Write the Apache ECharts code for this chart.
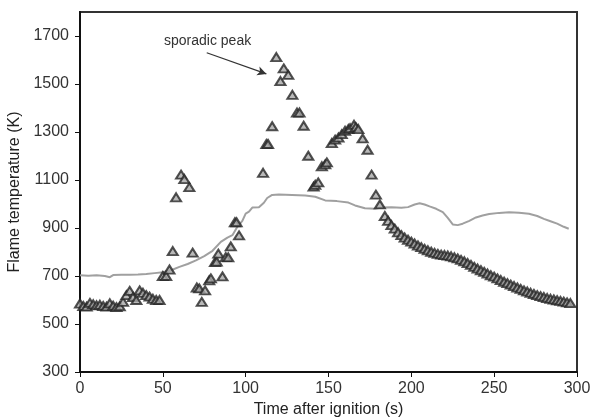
<!DOCTYPE html>
<html>
<head>
<meta charset="utf-8">
<script src="https://cdn.jsdelivr.net/npm/echarts@6/dist/echarts.min.js"></script>
<style>
  html, body { margin: 0; padding: 0; background: #fff; }
  #chart { width: 591px; height: 417px; }
</style>
</head>
<body>
<div id="chart"></div>
<script>
// measured flame temperature (triangles), [time s, K]
var flamePoints = [
  [0, 585], [2, 575], [4, 572], [6, 588], [8, 582], [10, 578], [12, 580], [14, 575],
  [16, 572], [18, 586], [20, 576], [22, 570], [24, 574], [26, 592], [28, 620], [30, 638],
  [32, 612], [34, 600], [36, 640], [38, 630], [40, 620], [42, 614], [44, 605], [46, 600],
  [48, 600], [50, 700], [52, 700], [54, 727], [56, 804], [58, 1028], [61, 1122], [63, 1104],
  [66, 1070], [68, 797], [70.5, 652], [72, 648], [73.5, 592], [75.5, 640], [78, 682], [79, 690],
  [81.5, 758], [82.5, 760], [83.5, 793], [86, 698], [88, 779], [89.5, 778], [91, 823],
  [93.5, 924], [94.5, 924], [96, 869],
  [110.5, 1130], [112.5, 1250], [113.5, 1250], [116, 1324], [118.5, 1612], [121, 1512],
  [123, 1565], [125.7, 1538], [128.2, 1455], [131, 1381], [132.5, 1381], [135, 1326],
  [137.8, 1201], [141, 1072], [142, 1080], [143.8, 1090], [146, 1157], [148, 1165], [149, 1173],
  [152, 1254], [154, 1268], [156, 1277], [158, 1291], [160, 1305], [162, 1312], [163, 1316],
  [165.4, 1330], [166.5, 1320], [168, 1312], [170.6, 1273], [173.6, 1226], [176, 1122],
  [178.6, 1039], [181, 998],
  [184, 950], [186, 930], [188, 912], [190, 897], [192, 882], [194, 870], [196, 860], [198, 851],
  [200, 843], [202, 835], [204, 827], [206, 820], [208, 813], [210, 807], [212, 801], [214, 796],
  [216, 792], [218, 789], [220, 787], [222, 785], [224, 782], [226, 778], [228, 773], [230, 767],
  [232, 761], [234, 754], [236, 746], [238, 738], [240, 731], [242, 724], [244, 717], [246, 710],
  [248, 703], [250, 697], [252, 690], [254, 683], [256, 676], [258, 670], [260, 664], [262, 658],
  [264, 652], [266, 646], [268, 640], [270, 635], [272, 630], [274, 625], [276, 620], [278, 616],
  [280, 612], [282, 608], [284, 605], [286, 602], [288, 599], [290, 596], [292, 593], [294, 590],
  [296, 587]
]

// grey reference curve, [time s, K]
var refCurve = [
  [0, 703], [5, 701], [10, 703], [15, 700], [18, 695], [20, 704], [25, 705], [30, 705],
  [35, 706], [40, 708], [45, 712], [50, 716], [55, 724], [60, 738], [65, 750], [70, 765],
  [75, 783], [80, 805], [85, 842], [89, 860], [92, 870], [95, 905], [98, 930], [100, 960],
  [102, 968], [104, 985], [108, 986], [111, 1005], [113, 1025], [116, 1038], [120, 1040],
  [128, 1038], [136, 1035], [142, 1030], [148, 1015], [155, 1012], [162, 1006], [166, 994],
  [172, 982], [178, 980], [182, 985], [188, 986], [194, 984], [198, 987], [202, 998],
  [205, 1003], [208, 998], [211, 990], [215, 980], [219, 966], [222, 942], [225, 915],
  [228, 912], [231, 918], [235, 930], [239, 944], [243, 952], [247, 958], [253, 963],
  [259, 966], [265, 964], [271, 959], [276, 950], [280, 938], [284, 928], [288, 918],
  [292, 905], [295, 897]
]

var xTicks = [0, 50, 100, 150, 200, 250, 300]
var yTicks = [300, 500, 700, 900, 1100, 1300, 1500, 1700]

// annotation arrow, data coords
var arrowFrom = [76.5, 1630]
var arrowTo = [112.5, 1542]

var chart = echarts.init(document.getElementById('chart'))

var font = 'Liberation Sans, Arial, sans-serif'
var tickFont = { color: '#333', fontSize: 16, fontFamily: font }
var titleFont = { color: '#222', fontSize: 16, fontFamily: font }

chart.setOption({
  animation: false,
  backgroundColor: '#fff',
  grid: {
    left: 80, right: 14, top: 12, bottom: 45,
    outerBoundsMode: 'none',
    containLabel: false,
    show: true, borderColor: '#333', borderWidth: 2
  },
  xAxis: {
    type: 'value',
    min: xTicks[0], max: xTicks[xTicks.length - 1], interval: 50,
    name: 'Time after ignition (s)',
    nameLocation: 'middle', nameGap: 28,
    nameTextStyle: titleFont,
    axisLine: { lineStyle: { color: '#111', width: 2 } },
    axisTick: { show: true, length: 5, lineStyle: { color: '#111' } },
    axisLabel: Object.assign({ margin: 9 }, tickFont),
    splitLine: { show: false }
  },
  yAxis: {
    type: 'value',
    min: yTicks[0], max: 1800, interval: 200,
    name: 'Flame temperature (K)',
    nameLocation: 'middle', nameGap: 51,
    nameTextStyle: titleFont,
    axisLine: { show: true, lineStyle: { color: '#111', width: 2 } },
    axisTick: { show: true, length: 5, lineStyle: { color: '#111' } },
    axisLabel: Object.assign({
      margin: 11, showMaxLabel: false,
      formatter: function (v) { return String(v) }
    }, tickFont),
    splitLine: { show: false }
  },
  graphic: [{
    type: 'text', left: 164, top: 34,
    style: { text: 'sporadic peak', fill: '#333', fontSize: 14, fontFamily: font }
  }],
  series: [
    {
      type: 'line',
      data: refCurve,
      showSymbol: false,
      lineStyle: { color: '#a0a0a0', width: 2 },
      z: 2
    },
    {
      type: 'scatter',
      data: flamePoints,
      symbol: 'triangle',
      symbolSize: [10, 8],
      itemStyle: { color: '#a8a8a8', borderColor: '#262626', borderWidth: 2 },
      z: 3,
      markLine: {
        silent: true,
        symbol: ['none', 'arrow'],
        symbolSize: [7, 9],
        label: { show: false },
        lineStyle: { color: '#333', width: 1.2, type: 'solid' },
        data: [[{ coord: arrowFrom }, { coord: arrowTo }]]
      }
    }
  ]
})
</script>
</body>
</html>
